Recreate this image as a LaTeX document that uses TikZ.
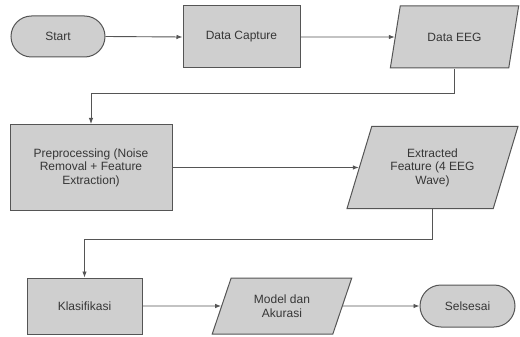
\documentclass[tikz,border=0pt]{standalone}
\usepackage{fontspec}
\setmainfont{Liberation Sans}
\usepackage{tikz}
\usetikzlibrary{shapes.geometric}
\usetikzlibrary{shapes.misc}
\usetikzlibrary{arrows.meta}
\definecolor{boxgray}{HTML}{CFCFCF}
\definecolor{linegray}{HTML}{555555}
\definecolor{textgray}{HTML}{363636}

\begin{document}
\begin{tikzpicture}[x=1pt,y=-1pt,
    font=\fontsize{12}{13.5}\selectfont,
    proses/.style={draw=linegray, line width=1pt, fill=boxgray, text=textgray, align=center, inner sep=2pt},
    terminal/.style={proses, rounded rectangle},
    datainout/.style={proses, trapezium, trapezium left angle=67, trapezium right angle=113, trapezium stretches=true},
    panah/.style={draw=linegray, line width=0.9pt, -{Latex[length=6pt,width=4.5pt]}}]
            \useasboundingbox (0,0) rectangle (520,337);
            % baris atas
            \node[terminal, minimum width=98pt, minimum height=41pt] (start) at (58,36.5) {Start};
            \node[proses, minimum width=117pt, minimum height=62pt] (capture) at (241.5,37) {Data Capture};
            \node[datainout, minimum width=129pt, minimum height=62pt] (eeg) at (454.5,37) {Data EEG};
            % baris tengah
            \node[proses, minimum width=162pt, minimum height=86pt] (prepro) at (91,167.5) {Preprocessing (Noise\\Removal + Feature\\Extraction)};
            \node[datainout, minimum width=171pt, minimum height=82pt] (fitur) at (432.5,167.5) {Extracted\\Feature (4 EEG\\Wave)};
            % baris bawah
            \node[proses, minimum width=115pt, minimum height=56pt] (klasifikasi) at (84.5,306) {Klasifikasi};
            \node[datainout, minimum width=140pt, minimum height=56pt] (model) at (282,306) {Model dan\\Akurasi};
            \node[terminal, minimum width=99pt, minimum height=42pt] (selesai) at (467.5,306) {Selsesai};
            % panah
            \draw[panah] (start.east) -- (capture.west);
            \draw[panah] (capture.east) -- (eeg.west);
            \draw[panah] (eeg.south) -- ++(0,25) -| (prepro.north);
            \draw[panah] (prepro.east) -- (fitur.west);
            \draw[panah] (fitur.south) -- ++(0,30.5) -| (klasifikasi.north);
            \draw[panah] (klasifikasi.east) -- (model.west);
            \draw[panah] (model.east) -- (selesai.west);
        \end{tikzpicture}
\end{document}
